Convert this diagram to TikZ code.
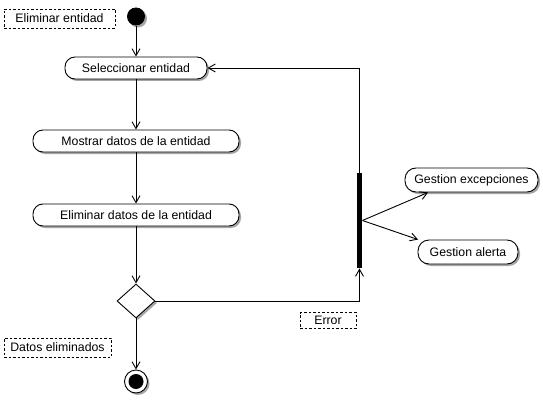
\documentclass[tikz,border=0pt]{standalone}
\usepackage{fontspec}
\setmainfont{Liberation Sans}
\usetikzlibrary{arrows.meta,shapes.geometric,shadows}
\begin{document}
\begin{tikzpicture}[x=1pt,y=-1pt,line width=0.9pt,
  font=\fontsize{12.3}{14}\selectfont,
  shad/.style={drop shadow={shadow xshift=2pt,shadow yshift=-2pt,fill=gray!70,opacity=1}},
  act/.style={draw,fill=white,rounded corners=10pt,inner sep=0pt,minimum height=22pt,shad},
  note/.style={draw,line width=0.8pt,dash pattern=on 2.5pt off 2pt,inner sep=0pt,minimum height=19pt},
  flow/.style={draw,-{Straight Barb[length=7pt,width=8pt,line width=0.9pt]}}]
\useasboundingbox (0,0) rectangle (543,401);
\fill[white] (0,0) rectangle (543,401);
\node[note,minimum width=111pt] (n1) at (59.5,18.5) {Eliminar entidad};
\node[circle,fill=black,minimum size=18pt,inner sep=0pt,shad] (ini) at (136,16.5) {};
\node[act,minimum width=142pt] (sel) at (136,68) {Seleccionar entidad};
\node[act,minimum width=206pt] (mos) at (136,141) {Mostrar datos de la entidad};
\node[act,minimum width=206pt] (eli) at (136,215) {Eliminar datos de la entidad};
\node[diamond,draw,fill=white,minimum width=38pt,minimum height=34pt,aspect=1.12,inner sep=0pt,shad] (dec) at (136,301) {};
\node[circle,draw,fill=white,minimum size=23pt,inner sep=0pt,shad] (fin) at (136,381.5) {};
\fill[black] (fin.center) circle (7.5pt);
\node[note,minimum width=107pt] (n2) at (57.5,347.5) {Datos eliminados};
\node[note,minimum width=56pt,minimum height=16pt] (n3) at (328,320.5) {Error};
\node[fill=black,minimum width=5pt,minimum height=95pt,inner sep=0pt] (bar) at (359.5,220.5) {};
\node[act,minimum width=133pt,minimum height=24pt,rounded corners=11pt] (gexc) at (471.5,180) {Gestion excepciones};
\node[act,minimum width=100pt,minimum height=24pt,rounded corners=11pt] (gal) at (468,252) {Gestion alerta};
\path[flow] (ini) -- (sel);
\path[flow] (sel) -- (mos);
\path[flow] (mos) -- (eli);
\path[flow] (eli) -- (dec);
\path[flow] (dec) -- (fin);
\path[flow] (dec.east) -| (bar.south);
\path[flow] (bar.north) |- (sel.east);
\path[flow] (bar.east) -- (gexc.196);
\path[flow] (bar.east) -- (gal.166);
\end{tikzpicture}
\end{document}
